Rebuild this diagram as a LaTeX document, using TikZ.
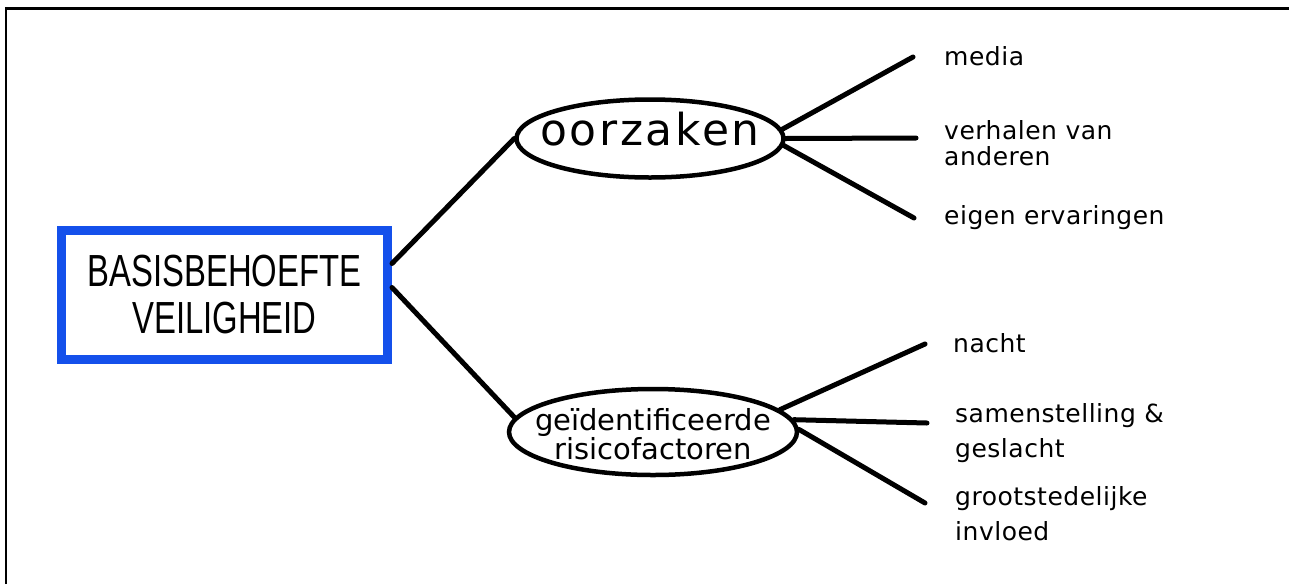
\documentclass[tikz,border=0pt]{standalone}
\usepackage{fontspec}
\usetikzlibrary{shapes.geometric}
\newfontfamily\boxfont[FakeStretch=0.73]{Liberation Sans}
\newfontfamily\lblfont[LetterSpace=2]{DejaVu Sans}
\newfontfamily\ovalfont[LetterSpace=6]{DejaVu Sans}
\newfontfamily\ovalfontb{DejaVu Sans}
\definecolor{boxblue}{RGB}{20,80,235}
\begin{document}
\begin{tikzpicture}[x=1pt,y=-1pt,
  conn/.style={line width=5pt, line cap=round},
  oval/.style={ellipse, draw, line width=4.5pt, inner sep=0pt, text height=0pt, text depth=0pt},
  lbl/.style={anchor=base west, inner sep=0pt, align=left, font=\lblfont\fontsize{25}{26}\selectfont},
  lblwide/.style={lbl, font=\lblfont\fontsize{25}{35}\selectfont}]
\useasboundingbox[fill=white] (0,0) rectangle (1289,584);
\draw[line width=2.5pt] (6,584) -- (6,8.5) -- (1289,8.5);

\node[draw=boxblue, line width=9pt, minimum width=326pt, minimum height=129pt,
      inner sep=0pt, align=center, font=\boxfont\fontsize{45}{47}\selectfont]
      (box) at (224.5,294.5) {BASISBEHOEFTE\\VEILIGHEID};

\node[oval, minimum width=267pt, minimum height=78pt] (o1) at (650,138.5)
  {\makebox[0pt]{\raisebox{-7pt}{\ovalfont\fontsize{44}{44}\selectfont oorzaken}}};
\node[oval, minimum width=288pt, minimum height=86pt] (o2) at (653,432)
  {\makebox[0pt]{\raisebox{2pt}{\ovalfontb\fontsize{29}{25}\selectfont\begin{tabular}[t]{@{}c@{}}geïdentificeerde\\risicofactoren\end{tabular}}}};

\draw[conn] ([yshift=31pt]box.east) -- (o1.west);
\draw[conn] ([yshift=7pt]box.east) -- (o2.174);

\coordinate (m1) at (913,57);
\coordinate (m2) at (916,138);
\coordinate (m3) at (914,218);
\coordinate (n1) at (925,344);
\coordinate (n2) at (927,423);
\coordinate (n3) at (925,503);

\draw[conn] (o1.4) -- (m1);
\draw[conn] (o1.east) -- (m2);
\draw[conn] (o1.-3) -- (m3);
\draw[conn] (o2.10) -- (n1);
\draw[conn] (o2.5) -- (n2);
\draw[conn] (o2.1) -- (n3);

\node[lbl] (l1) at (944,65) {media};
\node[lbl] (l2) at (944,165) {verhalen van\\anderen};
\node[lbl] (l3) at (944,224) {eigen ervaringen};
\node[lbl] (l4) at (953,352) {nacht};
\node[lblwide] (l5) at (955,457) {samenstelling \&\\geslacht};
\node[lblwide] (l6) at (955,540) {grootstedelijke\\invloed};
\end{tikzpicture}
\end{document}
